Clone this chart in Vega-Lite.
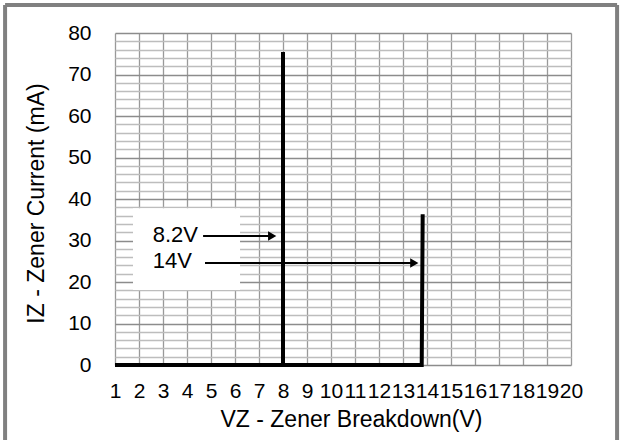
{
  "$schema": "https://vega.github.io/schema/vega-lite/v6.json",
  "width": 456,
  "height": 332,
  "autosize": {"type": "none"},
  "padding": {"left": 115, "top": 33, "right": 50, "bottom": 75},
  "background": "white",
  "config": {"view": {"stroke": null}, "font": "Liberation Sans"},
  "datasets": {
    "box": [{"v": 1.75, "v2": 6.21, "i": 18.1, "i2": 37.8}],
    "curves": [
      {"series": "8.2V", "order": 1, "v": 1, "i": 0},
      {"series": "8.2V", "order": 2, "v": 8, "i": 0},
      {"series": "8.2V", "order": 3, "v": 8, "i": 75.4},
      {"series": "14V", "order": 1, "v": 1, "i": 0},
      {"series": "14V", "order": 2, "v": 13.78, "i": 0},
      {"series": "14V", "order": 3, "v": 13.82, "i": 36.3}
    ],
    "arrows": [
      {"label": "8.2V", "v": 4.67, "v2": 7.6, "i": 31.08},
      {"label": "14V", "v": 4.75, "v2": 13.5, "i": 24.58}
    ],
    "heads": [
      {"label": "8.2V", "v": 7.55, "i": 31.08},
      {"label": "14V", "v": 13.47, "i": 24.58}
    ],
    "labels": [
      {"label": "8.2V", "v": 2.57, "i": 31.3},
      {"label": "14V", "v": 2.57, "i": 24.94}
    ],
    "frame": [
      {"side": "left", "v": -3.58, "v2": -3.58, "i": -19, "i2": 86.75},
      {"side": "top", "v": -3.58, "v2": 21.92, "i": 86.75, "i2": 86.75},
      {"side": "right", "v": 21.92, "v2": 21.92, "i": 86.75, "i2": -19}
    ]
  },
  "encoding": {
    "x": {
      "field": "v", "type": "quantitative",
      "scale": {"domain": [1, 20], "nice": false, "zero": false},
      "axis": {
        "values": [1,2,3,4,5,6,7,8,9,10,11,12,13,14,15,16,17,18,19,20],
        "title": "VZ - Zener Breakdown(V)",
        "grid": true, "gridColor": "#999999", "gridWidth": 1.3,
        "domain": false, "ticks": false,
        "labelFontSize": 21, "labelColor": "black", "labelPadding": 15,
        "labelOverlap": false, "labelFlush": false,
        "titleFontSize": 23, "titleFontWeight": "normal", "titleColor": "black",
        "titlePadding": 7, "titleX": 236
      }
    },
    "y": {
      "field": "i", "type": "quantitative",
      "scale": {"domain": [0, 80], "nice": false},
      "axis": {
        "values": [0,2,4,6,8,10,12,14,16,18,20,22,24,26,28,30,32,34,36,38,40,42,44,46,48,50,52,54,56,58,60,62,64,66,68,70,72,74,76,78,80],
        "labelExpr": "datum.value % 10 === 0 ? datum.label : ''",
        "title": "IZ - Zener Current (mA)",
        "grid": true,
        "gridColor": {"condition": {"test": "datum.value % 10 === 0", "value": "#8c8c8c"}, "value": "#bdbdbd"},
        "gridWidth": {"condition": {"test": "datum.value % 10 === 0", "value": 1.6}, "value": 1.4},
        "domain": false, "ticks": false,
        "labelFontSize": 21, "labelColor": "black", "labelPadding": 24, "labelOverlap": false,
        "titleFontSize": 23, "titleFontWeight": "normal", "titleColor": "black",
        "titlePadding": 19, "titleY": 170
      }
    }
  },
  "layer": [
    {
      "data": {"name": "box"},
      "mark": {"type": "rect", "fill": "white", "stroke": null},
      "encoding": {
        "x2": {"field": "v2"},
        "y2": {"field": "i2"}
      }
    },
    {
      "data": {"name": "curves"},
      "mark": {"type": "line", "color": "black", "strokeWidth": 4, "strokeCap": "butt", "strokeJoin": "miter"},
      "encoding": {
        "detail": {"field": "series"},
        "order": {"field": "order"}
      }
    },
    {
      "data": {"name": "arrows"},
      "mark": {"type": "rule", "color": "black", "strokeWidth": 2},
      "encoding": {
        "x2": {"field": "v2"}
      }
    },
    {
      "data": {"name": "heads"},
      "mark": {"type": "point", "shape": "triangle-right", "filled": true, "color": "black", "size": 90, "opacity": 1},
      "encoding": {}
    },
    {
      "data": {"name": "labels"},
      "mark": {"type": "text", "align": "left", "baseline": "middle", "fontSize": 22, "color": "black"},
      "encoding": {
        "text": {"field": "label"}
      }
    },
    {
      "data": {"name": "frame"},
      "mark": {"type": "rule", "color": "#808080", "strokeWidth": 4, "clip": false},
      "encoding": {
        "x2": {"field": "v2"},
        "y2": {"field": "i2"}
      }
    }
  ]
}
